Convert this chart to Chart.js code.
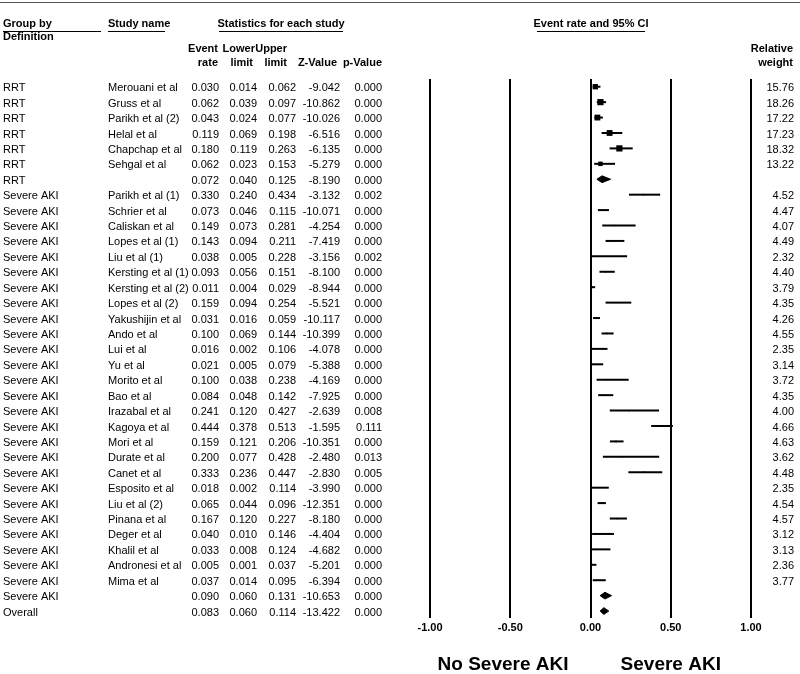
<!DOCTYPE html>
<html>
<head>
<meta charset="utf-8">
<script src="https://cdn.jsdelivr.net/npm/chart.js@4.4.0/dist/chart.umd.min.js"></script>
<style>html,body{margin:0;padding:0;background:#fff;}canvas{display:block;}</style>
</head>
<body>
<canvas id="c" width="800" height="674"></canvas>
<script>
const groups = ['RRT','RRT','RRT','RRT','RRT','RRT','RRT',
  'Severe AKI','Severe AKI','Severe AKI','Severe AKI','Severe AKI','Severe AKI','Severe AKI','Severe AKI','Severe AKI',
  'Severe AKI','Severe AKI','Severe AKI','Severe AKI','Severe AKI','Severe AKI','Severe AKI','Severe AKI','Severe AKI',
  'Severe AKI','Severe AKI','Severe AKI','Severe AKI','Severe AKI','Severe AKI','Severe AKI','Severe AKI','Severe AKI','Overall'];
const studies = ['Merouani et al','Gruss et al','Parikh et al (2)','Helal et al','Chapchap et al','Sehgal et al','',
  'Parikh et al (1)','Schrier et al','Caliskan et al','Lopes et al (1)','Liu et al (1)','Kersting et al (1)','Kersting et al (2)',
  'Lopes et al (2)','Yakushijin et al','Ando et al','Lui et al','Yu et al','Morito et al','Bao et al','Irazabal et al',
  'Kagoya et al','Mori et al','Durate et al','Canet et al','Esposito et al','Liu et al (2)','Pinana et al','Deger et al',
  'Khalil et al','Andronesi et al','Mima et al','',''];
const eventRate = [0.030,0.062,0.043,0.119,0.180,0.062,0.072,
  0.330,0.073,0.149,0.143,0.038,0.093,0.011,0.159,0.031,0.100,0.016,0.021,0.100,0.084,0.241,0.444,0.159,0.200,0.333,0.018,0.065,0.167,0.040,0.033,0.005,0.037,0.090,0.083];
const lowerLimit = [0.014,0.039,0.024,0.069,0.119,0.023,0.040,
  0.240,0.046,0.073,0.094,0.005,0.056,0.004,0.094,0.016,0.069,0.002,0.005,0.038,0.048,0.120,0.378,0.121,0.077,0.236,0.002,0.044,0.120,0.010,0.008,0.001,0.014,0.060,0.060];
const upperLimit = [0.062,0.097,0.077,0.198,0.263,0.153,0.125,
  0.434,0.115,0.281,0.211,0.228,0.151,0.029,0.254,0.059,0.144,0.106,0.079,0.238,0.142,0.427,0.513,0.206,0.428,0.447,0.114,0.096,0.227,0.146,0.124,0.037,0.095,0.131,0.114];
const zValue = [-9.042,-10.862,-10.026,-6.516,-6.135,-5.279,-8.190,
  -3.132,-10.071,-4.254,-7.419,-3.156,-8.100,-8.944,-5.521,-10.117,-10.399,-4.078,-5.388,-4.169,-7.925,-2.639,-1.595,-10.351,-2.480,-2.830,-3.990,-12.351,-8.180,-4.404,-4.682,-5.201,-6.394,-10.653,-13.422];
const pValue = [0.000,0.000,0.000,0.000,0.000,0.000,0.000,
  0.002,0.000,0.000,0.000,0.002,0.000,0.000,0.000,0.000,0.000,0.000,0.000,0.000,0.000,0.008,0.111,0.000,0.013,0.005,0.000,0.000,0.000,0.000,0.000,0.000,0.000,0.000,0.000];
const relWeight = [15.76,18.26,17.22,17.23,18.32,13.22,null,
  4.52,4.47,4.07,4.49,2.32,4.40,3.79,4.35,4.26,4.55,2.35,3.14,3.72,4.35,4.00,4.66,4.63,3.62,4.48,2.35,4.54,4.57,3.12,3.13,2.36,3.77,null,null];
const xTicks = [-1.00,-0.50,0.00,0.50,1.00];

const FONT = '"Liberation Sans", Arial, Helvetica, sans-serif';
const N = studies.length;
const DH = 0.22;
const datasets = [];
const sqData = [], sqRad = [];
for (let i = 0; i < N; i++) {
  if (relWeight[i] != null) {
    datasets.push({type:'line', data:[{x:lowerLimit[i], y:i},{x:upperLimit[i], y:i}],
      borderColor:'#000', borderWidth:2, pointRadius:0, fill:false, clip:false});
    sqData.push({x:eventRate[i], y:i});
    sqRad.push(relWeight[i] * 0.24);
  } else {
    datasets.push({type:'line', data:[
      {x:lowerLimit[i], y:i},{x:eventRate[i], y:i-DH},{x:upperLimit[i], y:i},{x:eventRate[i], y:i+DH},{x:lowerLimit[i], y:i}],
      borderColor:'#000', backgroundColor:'#000', borderWidth:1, pointRadius:0, fill:'shape', clip:false});
  }
}
datasets.push({type:'scatter', data:sqData, pointStyle:'rect', pointRadius:sqRad, backgroundColor:'#000', borderWidth:0, clip:false});

const textPlugin = {
  id:'forestText',
  afterDraw(chart){
    const ctx = chart.ctx, ys = chart.scales.y, xs = chart.scales.x;
    ctx.save();
    ctx.strokeStyle = '#555'; ctx.lineWidth = 1;
    ctx.beginPath(); ctx.moveTo(0,2.5); ctx.lineTo(800,2.5); ctx.stroke();
    ctx.strokeStyle = '#000';
    [[3,101],[108,165],[219,343],[537,645]].forEach(([a,b])=>{
      ctx.beginPath(); ctx.moveTo(a,31.5); ctx.lineTo(b,31.5); ctx.stroke();
    });
    ctx.fillStyle = '#000'; ctx.textBaseline = 'middle';
    ctx.font = 'bold 11px ' + FONT;
    ctx.textAlign = 'left';
    ctx.fillText('Group by', 3, 24);
    ctx.fillText('Definition', 3, 37);
    ctx.fillText('Study name', 108, 24);
    ctx.textAlign = 'center';
    ctx.fillText('Statistics for each study', 281, 24);
    ctx.fillText('Event rate and 95% CI', 591, 24);
    ctx.textAlign = 'right';
    ctx.fillText('Event', 218, 49); ctx.fillText('rate', 218, 63);
    ctx.fillText('Lower', 255, 49); ctx.fillText('limit', 253, 63);
    ctx.fillText('Upper', 287, 49); ctx.fillText('limit', 287, 63);
    ctx.fillText('Z-Value', 337, 63); ctx.fillText('p-Value', 382, 63);
    ctx.fillText('Relative', 793, 49); ctx.fillText('weight', 793, 63);

    ctx.font = '11px ' + FONT;
    for (let i = 0; i < N; i++) {
      const y = ys.getPixelForValue(i) + 1.5;
      ctx.textAlign = 'left';
      ctx.fillText(groups[i], 3, y);
      ctx.fillText(studies[i], 108, y);
      ctx.textAlign = 'right';
      ctx.fillText(eventRate[i].toFixed(3), 219, y);
      ctx.fillText(lowerLimit[i].toFixed(3), 257, y);
      ctx.fillText(upperLimit[i].toFixed(3), 296, y);
      ctx.fillText(zValue[i].toFixed(3), 340, y);
      ctx.fillText(pValue[i].toFixed(3), 382, y);
      if (relWeight[i] != null) ctx.fillText(relWeight[i].toFixed(2), 794, y);
    }
    ctx.font = 'bold 19px ' + FONT;
    ctx.textAlign = 'center';
    ctx.fillText('No Severe AKI', xs.getPixelForValue(-0.545), 665);
    ctx.fillText('Severe AKI', xs.getPixelForValue(0.5), 665);
    ctx.restore();
  }
};

new Chart(document.getElementById('c'), {
  type:'scatter',
  data:{datasets},
  options:{
    responsive:false, animation:false, events:[],
    layout:{padding:{left:430, right:49, top:79, bottom:0}},
    plugins:{legend:{display:false}, tooltip:{enabled:false}},
    scales:{
      x:{type:'linear', min:-1, max:1,
        afterBuildTicks:(axis)=>{ axis.ticks = xTicks.map(v=>({value:v})); },
        afterFit:(axis)=>{ axis.height = 56; },
        ticks:{color:'#000', padding:3, font:{family:FONT, size:11, weight:'bold'}, callback:(v)=>Number(v).toFixed(2), maxRotation:0},
        grid:{color:'#000', lineWidth:2, drawTicks:false},
        border:{display:false}},
      y:{type:'linear', display:false, reverse:true, min:-0.5, max:34.45}
    }
  },
  plugins:[textPlugin]
});
</script>
</body>
</html>
